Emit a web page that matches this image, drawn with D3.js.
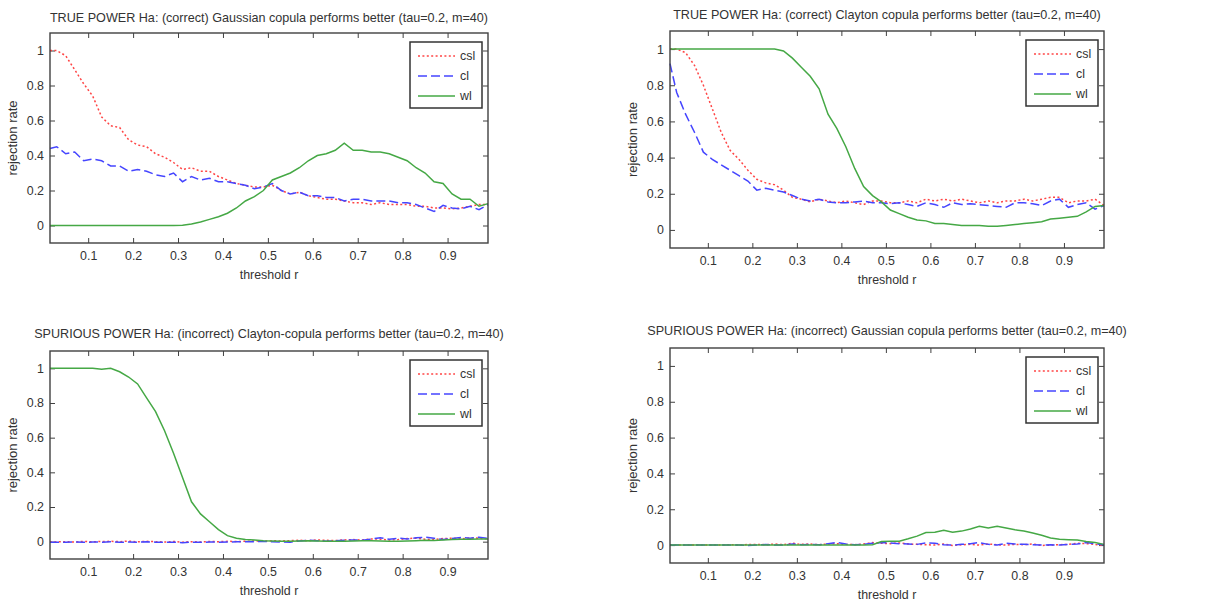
<!DOCTYPE html>
<html>
<head>
<meta charset="utf-8">
<script src="https://cdnjs.cloudflare.com/ajax/libs/d3/7.8.5/d3.min.js"></script>
<style>
  body { margin: 0; background: #fff; }
  svg { display: block; font-family: "Liberation Sans", Arial, sans-serif; }
  .axis text { font-size: 12.4px; fill: #333; }
  .axis line { stroke: #404040; }
  .axis path { display: none; }
  .title { fill: #333; font-size: 12.6px; }
  .xlabel { fill: #333; font-size: 12.4px; }
  .ylabel { fill: #333; font-size: 13px; }
  .legend text { fill: #333; font-size: 12.4px; }
</style>
</head>
<body>
<svg width="1212" height="602"></svg>
<script>
// threshold r values (x)
var thresholds = [0.015, 0.03, 0.05, 0.07, 0.09, 0.11, 0.13, 0.15, 0.17, 0.19,
  0.21, 0.23, 0.25, 0.27, 0.29, 0.31, 0.33, 0.35, 0.37, 0.39,
  0.41, 0.43, 0.45, 0.47, 0.49, 0.51, 0.53, 0.55, 0.57, 0.59,
  0.61, 0.63, 0.65, 0.67, 0.69, 0.71, 0.73, 0.75, 0.77, 0.79,
  0.81, 0.83, 0.85, 0.87, 0.89, 0.91, 0.93, 0.95, 0.97, 0.99];

var xTicks = [0.1, 0.2, 0.3, 0.4, 0.5, 0.6, 0.7, 0.8, 0.9];
var yTicks = [0, 0.2, 0.4, 0.6, 0.8, 1];
var seriesNames = ["csl", "cl", "wl"];

var titles = [
  "TRUE POWER Ha: (correct) Gaussian copula performs better (tau=0.2, m=40)",
  "TRUE POWER Ha: (correct) Clayton copula performs better (tau=0.2, m=40)",
  "SPURIOUS POWER Ha: (incorrect) Clayton-copula performs better (tau=0.2, m=40)",
  "SPURIOUS POWER Ha: (incorrect) Gaussian copula performs better (tau=0.2, m=40)"
];

// panel 1 : true power, gaussian
var p1Csl = [1.0, 1.0, 0.97, 0.89, 0.81, 0.74, 0.62, 0.57, 0.56, 0.49,
  0.46, 0.45, 0.41, 0.39, 0.36, 0.32, 0.33, 0.31, 0.31, 0.28,
  0.26, 0.24, 0.23, 0.22, 0.22, 0.23, 0.20, 0.18, 0.19, 0.17,
  0.16, 0.15, 0.15, 0.14, 0.13, 0.13, 0.12, 0.13, 0.12, 0.12,
  0.12, 0.11, 0.11, 0.10, 0.10, 0.095, 0.10, 0.11, 0.12, 0.12];
var p1Cl = [0.44, 0.45, 0.41, 0.42, 0.37, 0.38, 0.37, 0.34, 0.34, 0.31,
  0.32, 0.31, 0.29, 0.28, 0.30, 0.25, 0.28, 0.26, 0.27, 0.25,
  0.25, 0.24, 0.23, 0.21, 0.22, 0.24, 0.20, 0.18, 0.19, 0.17,
  0.17, 0.16, 0.16, 0.14, 0.15, 0.15, 0.14, 0.14, 0.14, 0.13,
  0.13, 0.12, 0.10, 0.08, 0.115, 0.10, 0.095, 0.11, 0.09, 0.12];
var p1Wl = [0, 0, 0, 0, 0, 0, 0, 0, 0, 0,
  0, 0, 0, 0, 0, 0.002, 0.008, 0.02, 0.035, 0.05,
  0.07, 0.10, 0.14, 0.165, 0.20, 0.26, 0.28, 0.30, 0.33, 0.37,
  0.40, 0.41, 0.43, 0.47, 0.43, 0.43, 0.42, 0.42, 0.41, 0.39,
  0.37, 0.33, 0.30, 0.25, 0.24, 0.18, 0.15, 0.15, 0.11, 0.125];

// panel 2 : true power, clayton
var p2Csl = [1.0, 1.0, 0.98, 0.91, 0.80, 0.67, 0.54, 0.44, 0.39, 0.33,
  0.28, 0.26, 0.25, 0.22, 0.18, 0.17, 0.155, 0.17, 0.16, 0.15,
  0.16, 0.15, 0.14, 0.16, 0.16, 0.15, 0.15, 0.16, 0.15, 0.17,
  0.16, 0.17, 0.16, 0.17, 0.16, 0.15, 0.16, 0.15, 0.16, 0.16,
  0.17, 0.16, 0.17, 0.18, 0.18, 0.15, 0.16, 0.16, 0.17, 0.135];
var p2Cl = [0.92, 0.76, 0.64, 0.54, 0.43, 0.39, 0.36, 0.33, 0.30, 0.27,
  0.22, 0.23, 0.22, 0.21, 0.19, 0.17, 0.16, 0.17, 0.155, 0.15,
  0.15, 0.155, 0.16, 0.15, 0.15, 0.145, 0.15, 0.14, 0.13, 0.15,
  0.14, 0.125, 0.15, 0.14, 0.145, 0.14, 0.135, 0.13, 0.125, 0.15,
  0.15, 0.145, 0.135, 0.16, 0.17, 0.125, 0.14, 0.15, 0.115, 0.135];
var p2Wl = [1, 1, 1, 1, 1, 1, 1, 1, 1, 1,
  1, 1, 1, 0.99, 0.95, 0.90, 0.85, 0.78, 0.64, 0.56,
  0.46, 0.34, 0.24, 0.19, 0.155, 0.11, 0.09, 0.07, 0.055, 0.05,
  0.035, 0.035, 0.03, 0.025, 0.025, 0.025, 0.02, 0.02, 0.025, 0.03,
  0.035, 0.04, 0.045, 0.06, 0.065, 0.07, 0.075, 0.10, 0.13, 0.135];

// panel 3 : spurious power, clayton
var p3Csl = [-0.002, -0.001, 0.0, -0.002, 0.002, -0.001, 0.001, 0.002, 0.0, 0.003,
  -0.001, 0.002, 0.0, -0.002, 0.001, -0.003, 0.0, -0.002, 0.001, 0.0,
  0.002, 0.001, 0.002, 0.004, 0.003, 0.005, 0.004, 0.006, 0.008, 0.005,
  0.010, 0.008, 0.006, 0.010, 0.012, 0.009, 0.016, 0.014, 0.010, 0.012,
  0.018, 0.020, 0.014, 0.012, 0.018, 0.020, 0.016, 0.022, 0.020, 0.016];
var p3Cl = [-0.003, -0.003, -0.004, -0.002, -0.004, -0.002, -0.003, -0.001, -0.004, -0.002,
  -0.003, -0.001, -0.003, -0.004, -0.003, -0.006, -0.003, -0.004, -0.002, -0.003,
  -0.002, -0.001, 0.0, 0.0, 0.001, 0.0, -0.002, -0.003, 0.004, 0.008,
  0.006, 0.002, 0.005, 0.008, 0.010, 0.008, 0.015, 0.022, 0.014, 0.020,
  0.016, 0.022, 0.026, 0.020, 0.012, 0.018, 0.024, 0.020, 0.026, 0.018];
var p3Wl = [1, 1, 1, 1, 1, 1, 0.995, 1, 0.98, 0.95,
  0.91, 0.83, 0.75, 0.64, 0.51, 0.37, 0.23, 0.16, 0.115, 0.07,
  0.035, 0.02, 0.012, 0.01, 0.006, 0.004, 0.003, 0.002, 0.004, 0.006,
  0.004, 0.002, 0.003, 0.002, 0.004, 0.006, 0.005, 0.004, 0.003, 0.002,
  0.004, 0.006, 0.008, 0.007, 0.009, 0.012, 0.014, 0.014, 0.016, 0.015];

// panel 4 : spurious power, gaussian
var p4Csl = [0, 0, 0, 0, 0, 0, 0, 0.002, 0.0, 0.003,
  0.004, 0.002, 0.006, 0.002, 0.010, 0.004, 0.006, 0.002, 0.006, 0.008,
  0.004, 0.002, 0.006, 0.014, 0.010, 0.008, 0.012, 0.006, 0.004, 0.002,
  0.0, 0.006, -0.002, 0.002, 0.004, 0.0, 0.006, 0.002, 0.0, 0.004,
  0.002, 0.006, -0.002, 0.0, 0.002, 0.004, 0.010, 0.008, 0.004, -0.002];
var p4Cl = [0, 0, 0, 0, 0, 0, 0, 0, 0, -0.002,
  0.0, 0.003, 0.001, 0.0, 0.006, 0.002, 0.004, 0.002, 0.008, 0.014,
  0.006, 0.002, 0.004, 0.010, 0.014, 0.012, 0.008, 0.006, 0.004, 0.012,
  0.010, 0.002, 0.0, 0.004, 0.008, 0.014, 0.004, 0.0, 0.010, 0.006,
  0.004, 0.002, 0.0, 0.002, 0.0, 0.004, 0.006, 0.014, 0.008, 0.002];
var p4Wl = [0, 0, 0, 0, 0, 0, 0, 0, 0, 0,
  0, 0, 0, 0, 0, 0, 0, 0, 0, 0,
  0, 0, 0, 0.002, 0.020, 0.022, 0.022, 0.035, 0.050, 0.070,
  0.072, 0.083, 0.072, 0.078, 0.090, 0.105, 0.095, 0.105, 0.095, 0.085,
  0.078, 0.068, 0.055, 0.040, 0.032, 0.030, 0.028, 0.020, 0.014, 0.004];

//line styles for each series
var styles = {
  csl: {color: "#ff4545", dash: "2,2.4"},
  cl:  {color: "#4545ff", dash: "9,4"},
  wl:  {color: "#45a845", dash: null}
};

//panel placement on the page
var panels = [
  {title: titles[0], data: [p1Csl, p1Cl, p1Wl], left: 50,  top: 33,  w: 438, h: 210, titleY: 22},
  {title: titles[1], data: [p2Csl, p2Cl, p2Wl], left: 670, top: 31,  w: 434, h: 217, titleY: 19},
  {title: titles[2], data: [p3Csl, p3Cl, p3Wl], left: 50,  top: 351, w: 438, h: 208, titleY: 338},
  {title: titles[3], data: [p4Csl, p4Cl, p4Wl], left: 670, top: 348, w: 434, h: 215, titleY: 335}
];

var svg = d3.select("svg");

svg.append("rect")
  .attr("width", 1212)
  .attr("height", 602)
  .attr("fill", "#fff");

function drawPanel(p) {
  var x = d3.scaleLinear().domain([0.015, 0.99]).range([0, p.w]),
      y = d3.scaleLinear().domain([-0.1, 1.1]).range([p.h, 0]);

  var g = svg.append("g")
    .attr("transform", "translate(" + p.left + "," + p.top + ")");

  //title
  svg.append("text")
    .attr("class", "title")
    .attr("x", p.left + p.w / 2)
    .attr("y", p.titleY)
    .attr("text-anchor", "middle")
    .text(p.title);

  //axes with inward ticks on all 4 sides
  g.append("g")
    .attr("class", "axis")
    .attr("transform", "translate(0," + p.h + ")")
    .call(d3.axisBottom(x).tickValues(xTicks).tickSize(-5).tickPadding(8).tickFormat(function(d) { return String(d); }));
  g.append("g")
    .attr("class", "axis")
    .call(d3.axisTop(x).tickValues(xTicks).tickSize(-5).tickFormat(""));
  g.append("g")
    .attr("class", "axis")
    .call(d3.axisLeft(y).tickValues(yTicks).tickSize(-5).tickPadding(6).tickFormat(function(d) { return String(d); }));
  g.append("g")
    .attr("class", "axis")
    .attr("transform", "translate(" + p.w + ",0)")
    .call(d3.axisRight(y).tickValues(yTicks).tickSize(-5).tickFormat(""));

  //series lines
  var line = d3.line()
    .x(function(d, i) { return x(thresholds[i]); })
    .y(function(d) { return y(d); });

  seriesNames.forEach(function(name, k) {
    g.append("path")
      .datum(p.data[k])
      .attr("fill", "none")
      .attr("stroke", styles[name].color)
      .attr("stroke-width", 1.5)
      .attr("stroke-dasharray", styles[name].dash)
      .attr("d", line);
  });

  //box
  g.append("rect")
    .attr("width", p.w)
    .attr("height", p.h)
    .attr("fill", "none")
    .attr("stroke", "#404040")
    .attr("stroke-width", 1.4);

  //axis labels
  g.append("text")
    .attr("class", "xlabel")
    .attr("x", p.w / 2)
    .attr("y", p.h + 36)
    .attr("text-anchor", "middle")
    .text("threshold r");
  g.append("text")
    .attr("class", "ylabel")
    .attr("transform", "translate(-33," + (p.h / 2) + ") rotate(-90)")
    .attr("text-anchor", "middle")
    .text("rejection rate");

  //legend
  var lg = g.append("g")
    .attr("class", "legend")
    .attr("transform", "translate(" + (p.w - 6 - 72) + ",9)");
  lg.append("rect")
    .attr("width", 72)
    .attr("height", 66)
    .attr("fill", "#fff")
    .attr("stroke", "#333")
    .attr("stroke-width", 1.5);
  seriesNames.forEach(function(name, k) {
    var ly = 14 + k * 20;
    lg.append("line")
      .attr("x1", 8).attr("x2", 45)
      .attr("y1", ly).attr("y2", ly)
      .attr("stroke", styles[name].color)
      .attr("stroke-width", 1.5)
      .attr("stroke-dasharray", styles[name].dash);
    lg.append("text")
      .attr("x", 50)
      .attr("y", ly + 4)
      .text(name);
  });
}

panels.forEach(drawPanel);
</script>
</body>
</html>
